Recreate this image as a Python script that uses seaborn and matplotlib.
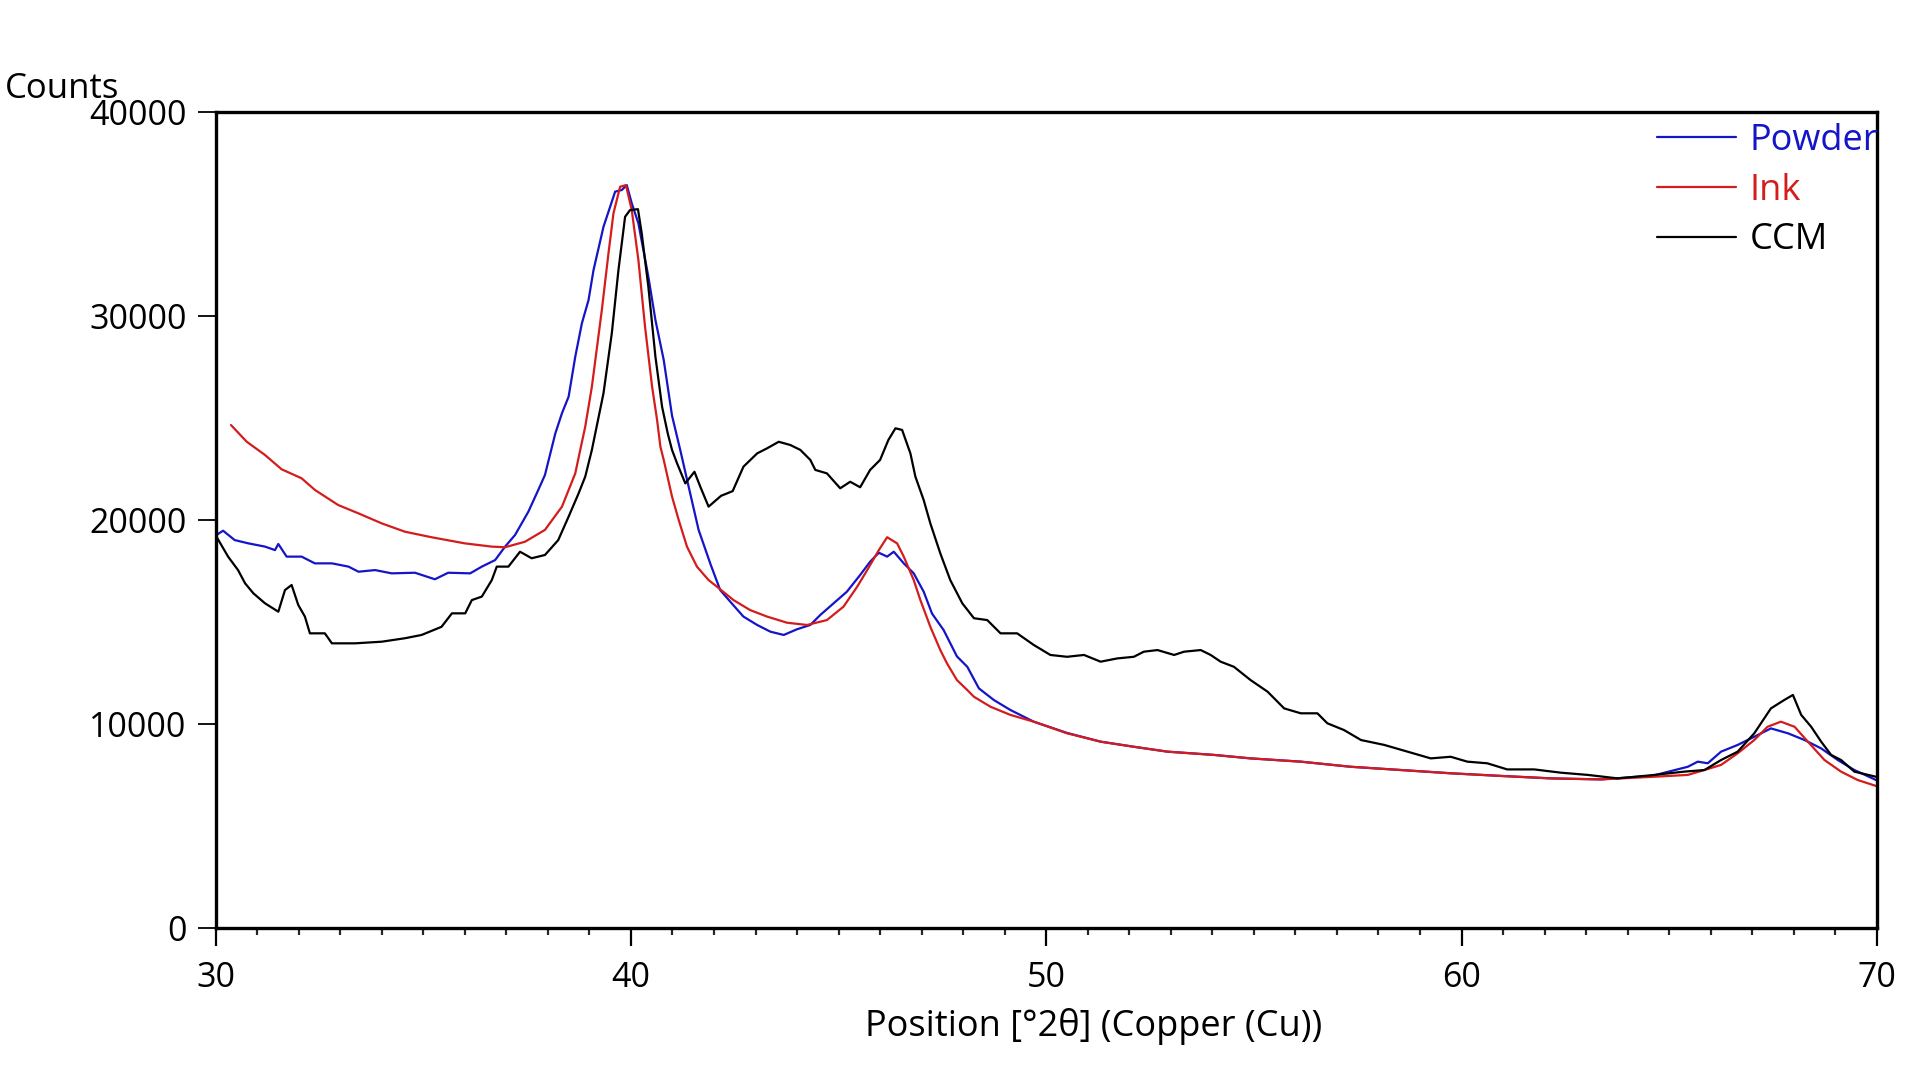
import numpy as np
import pandas as pd
import matplotlib
matplotlib.use("Agg")
import matplotlib.pyplot as plt
import seaborn as sns
from matplotlib.ticker import MultipleLocator

# ---------------- data ----------------
powder_x = [30.02, 30.18, 30.46, 30.79, 31.19, 31.43, 31.51, 31.71, 32.07, 32.39, 32.80, 33.20,
            33.44, 33.84, 34.24, 34.80, 35.28, 35.60, 36.13, 36.41, 36.73, 36.97, 37.21, 37.53,
            37.77, 37.93, 38.06, 38.18, 38.34, 38.50, 38.66, 38.82, 38.98, 39.10, 39.34, 39.62,
            39.78, 39.90, 40.02, 40.18, 40.42, 40.59, 40.79, 40.99, 41.19, 41.39, 41.63, 41.92,
            42.15, 42.47, 42.71, 43.04, 43.36, 43.68, 44.00, 44.32, 44.56, 44.88, 45.20, 45.52,
            45.76, 45.97, 46.17, 46.33, 46.57, 46.81, 47.05, 47.25, 47.53, 47.85, 48.10, 48.38,
            48.74, 49.14, 49.70, 50.50, 51.31, 52.11, 52.92, 54.04, 54.92, 56.13, 57.33, 58.54,
            59.74, 60.95, 62.15, 63.36, 64.60, 65.45, 65.69, 65.93, 66.25, 66.65, 67.05, 67.45,
            67.86, 68.26, 68.66, 69.06, 69.46, 69.98]
powder_y = [19250, 19460, 19000, 18840, 18680, 18510, 18810, 18190, 18190, 17860, 17860, 17700,
            17450, 17530, 17370, 17400, 17080, 17400, 17370, 17700, 18020, 18680, 19250, 20390,
            21460, 22190, 23250, 24230, 25220, 26030, 27990, 29630, 30770, 32240, 34360, 36080,
            36160, 36400, 35510, 34530, 31910, 29790, 27830, 25100, 23400, 21620, 19500, 17800,
            16550, 15800, 15250, 14840, 14510, 14350, 14630, 14840, 15330, 15900, 16470, 17290,
            17940, 18380, 18190, 18430, 17860, 17370, 16470, 15400, 14590, 13300, 12790, 11730,
            11160, 10670, 10100, 9550, 9120, 8870, 8630, 8470, 8300, 8140, 7890, 7730,
            7570, 7440, 7320, 7270, 7450, 7890, 8140, 8060, 8630, 8960, 9360, 9770,
            9530, 9200, 8790, 8220, 7730, 7240]

ink_x = [30.37, 30.75, 31.19, 31.59, 32.07, 32.39, 32.95, 33.44, 34.00, 34.56, 35.20, 36.00,
         36.65, 36.97, 37.45, 37.93, 38.34, 38.66, 38.78, 38.90, 39.06, 39.30, 39.46, 39.58,
         39.74, 39.88, 40.02, 40.18, 40.34, 40.51, 40.63, 40.71, 40.79, 40.99, 41.15, 41.35,
         41.59, 41.87, 42.07, 42.27, 42.47, 42.87, 43.28, 43.76, 44.24, 44.72, 45.12, 45.45,
         45.69, 45.97, 46.17, 46.41, 46.57, 46.81, 46.97, 47.21, 47.45, 47.61, 47.85, 48.10,
         48.26, 48.66, 49.14, 49.70, 50.50, 51.31, 52.11, 52.92, 54.04, 54.92, 56.13, 57.33,
         58.54, 59.74, 60.95, 62.15, 63.36, 64.64, 65.45, 65.85, 66.25, 66.65, 67.05, 67.37,
         67.69, 68.02, 68.34, 68.74, 69.14, 69.54, 69.98]
ink_y = [24640, 23820, 23170, 22470, 22030, 21460, 20720, 20310, 19820, 19410, 19140, 18840,
         18680, 18650, 18920, 19500, 20640, 22270, 23420, 24560, 26520, 30280, 33060, 35020,
         36320, 36400, 35180, 32730, 29460, 26520, 24890, 23580, 22930, 21130, 19990, 18680,
         17700, 17040, 16720, 16390, 16060, 15570, 15250, 14950, 14840, 15080, 15740, 16720,
         17530, 18510, 19140, 18840, 18190, 17040, 16060, 14750, 13610, 12960, 12140, 11650,
         11320, 10830, 10430, 10100, 9530, 9120, 8870, 8630, 8470, 8300, 8140, 7890,
         7730, 7570, 7440, 7320, 7270, 7400, 7490, 7730, 7980, 8550, 9200, 9850,
         10100, 9850, 9120, 8220, 7650, 7240, 6950]

ccm_x = [30.02, 30.30, 30.54, 30.71, 30.91, 31.19, 31.51, 31.67, 31.83, 31.99, 32.15, 32.27,
         32.63, 32.80, 33.36, 34.00, 34.56, 34.96, 35.44, 35.69, 36.01, 36.17, 36.41, 36.65,
         36.77, 37.05, 37.33, 37.61, 37.93, 38.25, 38.50, 38.74, 38.90, 39.06, 39.34, 39.54,
         39.70, 39.86, 39.98, 40.17, 40.26, 40.42, 40.59, 40.75, 40.89, 40.99, 41.11, 41.31,
         41.53, 41.67, 41.87, 42.17, 42.45, 42.71, 43.04, 43.28, 43.56, 43.84, 44.08, 44.32,
         44.44, 44.72, 45.04, 45.28, 45.52, 45.76, 46.00, 46.20, 46.37, 46.53, 46.73, 46.85,
         47.05, 47.21, 47.45, 47.69, 47.98, 48.26, 48.58, 48.90, 49.30, 49.70, 50.10, 50.50,
         50.91, 51.31, 51.71, 52.11, 52.35, 52.68, 53.08, 53.32, 53.72, 53.96, 54.20, 54.52,
         54.92, 55.33, 55.73, 56.13, 56.53, 56.77, 57.17, 57.58, 58.14, 58.70, 59.26, 59.74,
         60.14, 60.62, 61.10, 61.75, 62.39, 63.04, 63.76, 64.60, 65.36, 65.85, 66.25, 66.65,
         67.05, 67.21, 67.45, 67.77, 67.98, 68.18, 68.42, 68.66, 68.90, 69.14, 69.46, 69.98]
ccm_y = [19170, 18190, 17530, 16880, 16390, 15900, 15490, 16550, 16800, 15820, 15250, 14430,
         14430, 13940, 13940, 14020, 14190, 14350, 14750, 15410, 15410, 16060, 16230, 17040,
         17700, 17700, 18430, 18110, 18270, 19000, 20150, 21290, 22110, 23420, 26200, 29140,
         32240, 34850, 35180, 35220, 34040, 31420, 27990, 25540, 24200, 23420, 22770, 21780,
         22350, 21620, 20640, 21170, 21400, 22600, 23250, 23500, 23820, 23660, 23420, 22930,
         22440, 22270, 21540, 21860, 21590, 22440, 22930, 23910, 24480, 24400, 23250, 22110,
         20960, 19820, 18350, 17040, 15900, 15170, 15080, 14430, 14430, 13860, 13370, 13280,
         13370, 13040, 13200, 13280, 13530, 13610, 13370, 13530, 13610, 13370, 13040, 12790,
         12140, 11570, 10750, 10510, 10510, 10020, 9690, 9200, 8960, 8630, 8300, 8380,
         8140, 8060, 7760, 7760, 7600, 7490, 7320, 7480, 7650, 7730, 8220, 8630,
         9530, 10020, 10750, 11160, 11410, 10430, 9850, 9120, 8470, 8220, 7650, 7400]

series_names = ["Powder", "Ink", "CCM"]
series_colors = ["#1414C8", "#D41C1C", "#000000"]

x_ticks = [30, 40, 50, 60, 70]
y_ticks = [0, 10000, 20000, 30000, 40000]

# ---------------- build table ----------------
frames = []
for name, xs, ys in zip(series_names, [powder_x, ink_x, ccm_x], [powder_y, ink_y, ccm_y]):
    frames.append(pd.DataFrame({"x": xs, "y": ys, "series": name}))
df = pd.concat(frames, ignore_index=True)

# ---------------- style ----------------
sns.set_style("white")
plt.rcParams["font.family"] = ["Open Sans", "DejaVu Sans"]

fig = plt.figure(figsize=(19.2, 10.8), dpi=100)
ax = fig.add_axes([0.1123, 0.1410, 0.8652, 0.7556])

sns.lineplot(data=df, x="x", y="y", hue="series", hue_order=series_names,
             palette=dict(zip(series_names, series_colors)), estimator=None,
             sort=False, linewidth=1.6, ax=ax)

ax.set_xlim(30, 70)
ax.set_ylim(0, 40000)
ax.set_xticks(x_ticks)
ax.set_yticks(y_ticks)
ax.xaxis.set_minor_locator(MultipleLocator(1))

ax.tick_params(axis="x", which="major", direction="out", length=13, width=1.6,
               labelsize=24.5, pad=11, bottom=True, top=False, colors="black")
ax.tick_params(axis="x", which="minor", direction="out", length=5, width=1.6,
               bottom=True, top=False)
ax.tick_params(axis="y", which="major", direction="out", length=13, width=1.3,
               labelsize=24.5, pad=8, left=True, right=False, colors="black")

for s in ax.spines.values():
    s.set_visible(True)
    s.set_linewidth(2.4)
    s.set_color("black")

ax.set_ylabel("")
ax.set_xlabel("Position [°2θ] (Copper (Cu))", fontsize=26, color="black")
ax.xaxis.set_label_coords(0.5285, -0.098)

fig.text(0.0026, 0.9095, "Counts", fontsize=25, va="baseline", ha="left", color="black")

handles, labels = ax.get_legend_handles_labels()
ax.legend(handles, labels, loc="upper left", bbox_to_anchor=(1657 / 1920, 0.8863),
          bbox_transform=fig.transFigure, frameon=False, fontsize=26,
          handlelength=2.2, handletextpad=0.36, labelspacing=0.38,
          borderpad=0, borderaxespad=0, labelcolor="linecolor")

fig.savefig("out.png", dpi=100, facecolor="white")
